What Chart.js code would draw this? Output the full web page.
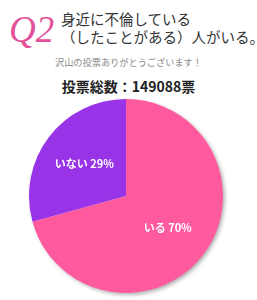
<!DOCTYPE html>
<html>
<head>
<meta charset="utf-8">
<script src="https://cdn.jsdelivr.net/npm/chart.js@4"></script>
<style>
  html, body { margin: 0; padding: 0; background: #fff; }
  body { width: 257px; height: 300px; position: relative; overflow: hidden; font-family: "Noto Sans CJK JP", sans-serif; }
  .q { position: absolute; left: 9px; top: 10px; font: italic 37px "Liberation Serif", serif; color: #e4509a; line-height: 40px; }
  .ttl { position: absolute; left: 61px; top: 10px; font-size: 14.5px; line-height: 18px; color: #333; white-space: nowrap; }
  .sub { position: absolute; left: 0; width: 257px; top: 55px; text-align: center; font-size: 9.2px; color: #888; }
  .total { position: absolute; left: 0; width: 257px; top: 76px; text-align: center; font-size: 14px; font-weight: bold; color: #222; }
  .pie { position: absolute; left: 23px; top: 93px; width: 206px; height: 206px; }
</style>
</head>
<body>
<div class="q">Q2</div>
<div class="ttl">身近に不倫している<br>（したことがある）人がいる。</div>
<div class="sub">沢山の投票ありがとうございます！</div>
<div class="total">投票総数：149088票</div>
<div class="pie"><canvas id="pieChart"></canvas></div>

<script>
/* ---- データ ---- */
const labels  = ['いる', 'いない'];
const percent = [70, 29];
const colors  = ['#ff5a9e', '#9833e8'];

/* 円の影 */
const shadowPlugin = {
  id: 'pieShadow',
  beforeDatasetsDraw(chart) {
    const arc = chart.getDatasetMeta(0).data[0];
    if (!arc) return;
    const ctx = chart.ctx;
    ctx.save();
    ctx.shadowColor = 'rgba(0,0,0,0.35)';
    ctx.shadowBlur = 4;
    ctx.shadowOffsetX = 2;
    ctx.shadowOffsetY = 2;
    ctx.fillStyle = '#fff';
    ctx.beginPath();
    ctx.arc(arc.x, arc.y, arc.outerRadius - 0.5, 0, Math.PI * 2);
    ctx.fill();
    ctx.restore();
  }
};

/* ラベル（いる 70% など） */
const labelPlugin = {
  id: 'sliceLabels',
  afterDatasetsDraw(chart) {
    const ctx = chart.ctx;
    chart.getDatasetMeta(0).data.forEach((arc, i) => {
      const mid = (arc.startAngle + arc.endAngle) / 2;
      const r = arc.outerRadius * 0.54;
      const x = arc.x + Math.cos(mid) * r;
      const y = arc.y + Math.sin(mid) * r;
      ctx.save();
      ctx.fillStyle = '#fff';
      ctx.font = 'bold 11px "Noto Sans CJK JP", sans-serif';
      ctx.textAlign = 'center';
      ctx.textBaseline = 'middle';
      ctx.fillText(labels[i] + ' ' + percent[i] + '%', x, y);
      ctx.restore();
    });
  }
};

new Chart(document.getElementById('pieChart'), {
  type: 'pie',
  data: {
    labels: labels,
    datasets: [{
      data: percent,
      backgroundColor: colors,
      borderWidth: 0,
    }],
  },
  options: {
    responsive: true,
    maintainAspectRatio: false,
    animation: false,
    layout: { padding: 6 },
    plugins: {
      legend: { display: false },
      tooltip: { enabled: false },
    },
  },
  plugins: [shadowPlugin, labelPlugin],
});
</script>
</body>
</html>
